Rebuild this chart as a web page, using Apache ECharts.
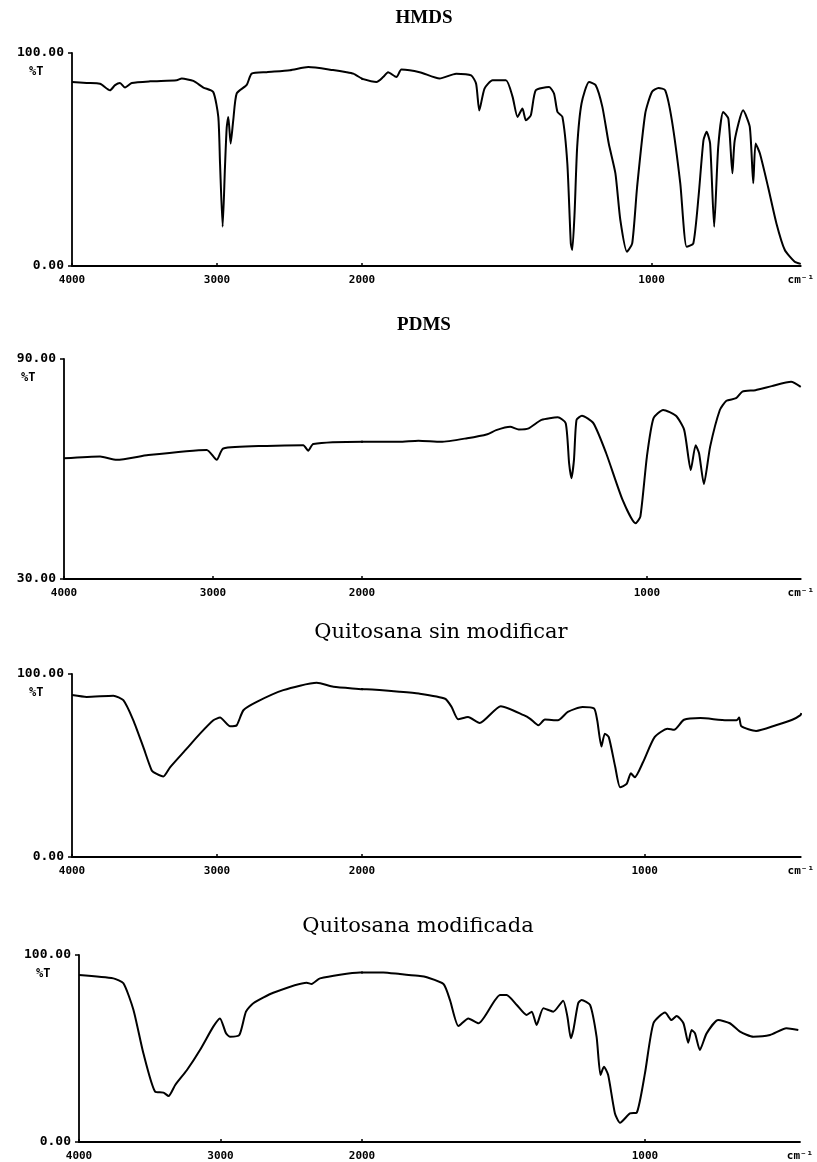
<!DOCTYPE html>
<html>
<head>
<meta charset="utf-8">
<script src="https://cdn.jsdelivr.net/npm/echarts@6/dist/echarts.min.js"></script>
<style>
html,body{margin:0;padding:0;background:#fff;}
#chart{width:817px;height:1162px;}
</style>
</head>
<body>
<div id="chart"></div>
<script>
// ---- Data: [wavenumber (cm-1), %T] ----
const hmds = [[4000,86.4],[3899,85.9],[3807,85.6],[3738,82.5],[3703,84.9],[3669,85.9],[3634,83.8],[3588,85.9],[3462,86.7],[3278,87.2],[3243,88.0],[3163,86.9],[3094,83.8],[3026,81.7],[2991,70],[2979,48],[2961,18.4],[2945,46.5],[2933,65],[2922,70],[2906,57.5],[2888,68.4],[2864,81],[2795,85],[2761,90.3],[2657,91],[2497,91.9],[2370,93.4],[2200,92],[2106,91],[2060,90.3],[1950,86.4],[1927,88.7],[1910,91],[1881,88.7],[1864,92.2],[1801,91],[1732,88],[1675,90.3],[1623,89.5],[1606,85.6],[1595,73],[1577,83.3],[1549,87.2],[1503,87.2],[1480,79.4],[1463,70],[1446,73.9],[1434,68.4],[1417,70.8],[1400,82.5],[1354,84],[1337,81],[1325,72.3],[1308,70],[1291,48.1],[1279,10.6],[1274,7.5],[1266,24.7],[1257,55.9],[1242,76.3],[1216,86.4],[1193,84.9],[1170,74.7],[1148,57.5],[1125,43.5],[1108,21.6],[1085,6.7],[1067,10.6],[1050,37.2],[1022,71.6],[999,81.7],[976,83.6],[953,82.5],[930,68.4],[901,38.8],[879,9],[856,10.6],[838,32.5],[821,59],[810,63],[798,57.5],[784,18.4],[770,55.9],[753,72.3],[735,69.2],[721,43.5],[713,59],[684,73.1],[661,65.3],[649,38.8],[641,57.5],[626,52.8],[598,37.2],[569,20],[540,7.5],[506,2],[485,1]];

const pdms = [[4000,62.9],[3758,63.4],[3646,62.5],[3434,63.8],[3042,65.2],[2975,62.5],[2931,65.6],[2640,66.3],[2394,66.5],[2361,65],[2327,66.8],[1984,67.4],[1870,67.4],[1802,67.7],[1723,67.4],[1631,68.4],[1560,69.5],[1529,70.6],[1480,71.5],[1450,70.8],[1415,71.1],[1370,73.4],[1313,74.1],[1285,72.5],[1273,61.5],[1265,57.5],[1256,62.5],[1247,73.4],[1228,74.5],[1188,72.5],[1143,64.3],[1085,51.5],[1040,45.2],[1023,47],[1000,63.4],[977,73.8],[943,76.1],[898,74.5],[869,70.6],[846,59.7],[829,66.5],[817,64.3],[800,55.9],[778,66.1],[744,76.1],[721,78.6],[687,79.3],[665,81.1],[619,81.5],[562,82.6],[494,83.8],[460,82.4]];

const quitosana = [[4000,88.5],[3899,87.5],[3715,88.1],[3646,85.7],[3577,74.7],[3508,60],[3450,47.3],[3416,45.4],[3370,44],[3324,49],[3209,59.2],[3117,67.4],[3025,74.7],[2979,76.2],[2910,71.4],[2864,72],[2818,80.2],[2726,84.8],[2543,91.2],[2312,95.2],[2197,93],[1984,91.6],[1868,90.3],[1799,89.3],[1706,86.5],[1683,82],[1660,75.3],[1625,76.5],[1584,73.2],[1509,82.4],[1428,77.5],[1405,75.5],[1376,72],[1353,75.1],[1307,74.7],[1272,79.3],[1220,82],[1179,81.1],[1168,74.7],[1153,60.4],[1141,67.4],[1127,65.5],[1104,49],[1087,38.1],[1064,39.9],[1049,45.7],[1035,43.6],[1006,51.8],[965,65.5],[919,70.1],[896,69.5],[861,75],[803,75.9],[710,74.7],[675,74.7],[666,76.2],[658,71.4],[606,68.9],[536,72],[478,75],[449,77.5],[446,78.7]];

const quitosanaMod = [[4000,89.3],[3757,87.5],[3686,84.9],[3615,70.6],[3545,47.4],[3462,26.9],[3403,26.4],[3367,24.6],[3320,30.5],[3237,38.5],[3145,49.2],[3051,61.7],[3004,66.1],[2961,58.1],[2933,56.3],[2867,57.2],[2820,69.7],[2768,74.2],[2627,79.8],[2391,85.2],[2356,84.5],[2297,87.5],[2014,90.7],[1925,90.7],[1866,89.8],[1795,88.8],[1771,88.1],[1712,84.5],[1689,75.9],[1659,62],[1624,66.1],[1588,63.5],[1512,78.6],[1489,78.6],[1453,73.3],[1418,67.9],[1400,69.7],[1383,62.6],[1359,71.5],[1324,69.7],[1289,75.6],[1274,67],[1262,55.5],[1253,59.9],[1236,74.2],[1224,75.9],[1194,73.3],[1171,56.3],[1157,35.8],[1145,40.3],[1130,35.8],[1106,15.3],[1088,10.3],[1053,15.3],[1029,15.7],[1000,36.7],[970,63.5],[929,69.2],[906,65.2],[888,67.4],[864,63.5],[847,53.1],[835,59.9],[823,58.1],[806,49.2],[782,58.1],[741,65.2],[700,63.5],[664,59],[617,56.3],[558,57.2],[500,60.8],[458,59.9]];

const titles = ['HMDS', 'PDMS', 'Quitosana sin modificar', 'Quitosana modificada'];
const yRanges = [[0, 100], [30, 90], [0, 100], [0, 100]];
const xEnds = [485, 460, 448, 452];          // low-wavenumber end of each scan
const xTicksHigh = [4000, 3000, 2000];        // ticks in the 4000-2000 section
const xTicksLow = [1000];                     // ticks in the expanded section
const xUnit = 'cm⁻¹';
const yUnit = '%T';
const spectra = [hmds, pdms, quitosana, quitosanaMod];

// ---- Layout (pixels) ----
const layout = [
  {axisX: 72, splitX: 362, endX: 803, top: 53,  bottom: 266, tx: 424, ty: 18,  bold: true},
  {axisX: 64, splitX: 362, endX: 813, top: 359, bottom: 579, tx: 424, ty: 325, bold: true},
  {axisX: 72, splitX: 362, endX: 809, top: 674, bottom: 857, tx: 441, ty: 633, bold: false},
  {axisX: 79, splitX: 362, endX: 800, top: 955, bottom: 1142, tx: 418, ty: 927, bold: false}
];

const monoFont = 'DejaVu Sans Mono';
const grid = [], xAxis = [], yAxis = [], series = [], graphic = [];

layout.forEach((L, i) => {
  const [ymin, ymax] = yRanges[i];
  const h = L.bottom - L.top;
  // left (4000-2000) and right (2000-end, expanded) sections
  grid.push({left: L.axisX, top: L.top, width: L.splitX - L.axisX, height: h});
  grid.push({left: L.splitX, top: L.top, width: L.endX - L.splitX, height: h});
  const gL = 2 * i, gR = 2 * i + 1;
  const axisLine = {show: true, lineStyle: {color: '#000', width: 1.8}};
  xAxis.push({
    gridIndex: gL, type: 'value', min: 2000, max: 4000, interval: 1000, inverse: true,
    axisLine, splitLine: {show: false},
    axisTick: {show: true, inside: true, length: 3, lineStyle: {color: '#000', width: 1.5}},
    axisLabel: {show: true, margin: 9, fontFamily: monoFont, fontWeight: 'bold', fontSize: 11, color: '#000',
      showMinLabel: true, showMaxLabel: true, customValues: xTicksHigh, formatter: v => String(v)}
  });
  xAxis.push({
    gridIndex: gR, type: 'value', min: xEnds[i], max: 2000, inverse: true,
    axisLine, splitLine: {show: false},
    axisTick: {show: true, inside: true, length: 3, customValues: xTicksLow, lineStyle: {color: '#000', width: 1.5}},
    axisLabel: {show: true, margin: 9, fontFamily: monoFont, fontWeight: 'bold', fontSize: 11, color: '#000',
      customValues: xTicksLow.concat([xEnds[i]]),
      formatter: v => (v === xEnds[i] ? xUnit : String(v))}
  });
  yAxis.push({
    gridIndex: gL, type: 'value', min: ymin, max: ymax,
    axisLine, splitLine: {show: false},
    axisTick: {show: true, inside: false, length: 4, customValues: [ymin, ymax], lineStyle: {color: '#000', width: 1.5}},
    axisLabel: {show: true, margin: 8, fontFamily: monoFont, fontWeight: 'bold', fontSize: 13, color: '#000',
      customValues: [ymin, ymax], formatter: v => v.toFixed(2)}
  });
  yAxis.push({gridIndex: gR, type: 'value', min: ymin, max: ymax, show: false});

  [gL, gR].forEach((g) => {
    series.push({
      type: 'line', xAxisIndex: g, yAxisIndex: g, data: spectra[i],
      showSymbol: false, symbol: 'none', clip: true, animation: false,
      smooth: 0.2,
      lineStyle: {color: '#000', width: 2}
    });
  });

  graphic.push({
    type: 'text', left: L.axisX - 43, top: L.top + 13,
    style: {text: yUnit, fontFamily: monoFont, fontWeight: 'bold', fontSize: 12, fill: '#000'}
  });
  graphic.push({
    type: 'text', x: L.tx, y: L.ty,
    style: {text: titles[i], textAlign: 'center', textVerticalAlign: 'middle',
      fontFamily: L.bold ? 'Liberation Serif' : 'DejaVu Serif',
      fontWeight: L.bold ? 'bold' : 'normal', fontSize: L.bold ? 19 : 21, fill: '#000'}
  });
});

const chart = echarts.init(document.getElementById('chart'), null, {renderer: 'canvas'});
chart.setOption({backgroundColor: '#fff', animation: false, grid, xAxis, yAxis, series, graphic});
</script>
</body>
</html>
